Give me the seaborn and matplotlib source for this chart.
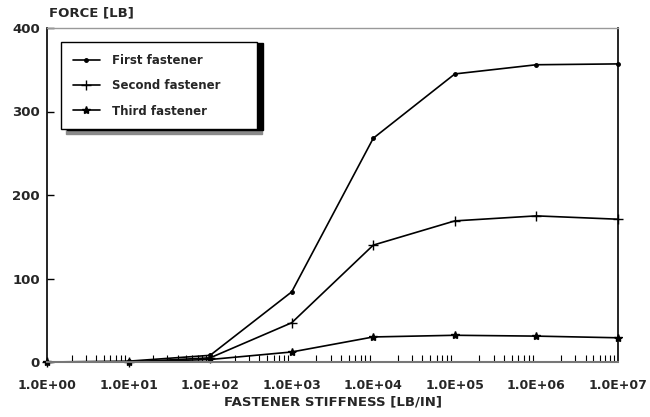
import matplotlib
matplotlib.use("Agg")
import matplotlib.pyplot as plt
from matplotlib.patches import Shadow
import numpy as np
import pandas as pd
import seaborn as sns

stiffness = [1e0, 1e1, 1e2, 1e3, 1e4, 1e5, 1e6, 1e7]
first = [0, 1, 8, 84, 268, 345, 356, 357]
second = [0, 0, 5, 47, 140, 169, 175, 171]
third = [0, 0, 3, 12, 30, 32, 31, 29]
series_names = ["First fastener", "Second fastener", "Third fastener"]
series_markers = [".", "+", "*"]
x_ticklabels = ["1.0E+00", "1.0E+01", "1.0E+02", "1.0E+03",
                "1.0E+04", "1.0E+05", "1.0E+06", "1.0E+07"]
y_ticks = [0, 100, 200, 300, 400]

sns.set_theme(style="white")
plt.rcParams["font.family"] = ["DejaVu Sans"]
plt.rcParams["font.weight"] = "bold"

fig = plt.figure(figsize=(6.5, 4.17), dpi=100)
L, R, T, B = 47, 618, 28, 362
ax = fig.add_axes([L / 650, 1 - B / 417, (R - L) / 650, (B - T) / 417])

msizes = {".": 5, "+": 7, "*": 6}
for name, vals, mk in zip(series_names, [first, second, third], series_markers):
    d = pd.DataFrame({"stiffness": stiffness, "force": vals})
    sns.lineplot(data=d, x="stiffness", y="force", color="black", marker=mk,
                 markersize=msizes[mk], linewidth=1.2, ax=ax, label=name,
                 markeredgecolor="black", markerfacecolor="black", markeredgewidth=1.0,
                 clip_on=False)

ax.set_xscale("log")
ax.set_xlim(1, 1e7)
ax.set_ylim(0, 400)
ax.set_xticks(stiffness)
ax.set_xticklabels(x_ticklabels, fontsize=9, fontweight="bold")
ax.set_yticks(y_ticks)
ax.set_yticklabels([str(v) for v in y_ticks], fontsize=9.5, fontweight="bold")
ax.xaxis.set_minor_locator(matplotlib.ticker.LogLocator(base=10, subs=np.arange(2, 10)))
ax.xaxis.set_minor_formatter(matplotlib.ticker.NullFormatter())
ax.tick_params(axis="x", which="major", direction="in", length=0, pad=12.5)
ax.tick_params(axis="x", which="minor", direction="in", length=5, width=0.8, color="black", bottom=True)
ax.tick_params(axis="y", which="major", direction="in", length=5, width=1, color="black", left=True, pad=5)

for side in ["left", "right"]:
    ax.spines[side].set_color("black")
    ax.spines[side].set_linewidth(1.2)
ax.spines["bottom"].set_color("#777777")
ax.spines["bottom"].set_linewidth(1.5)
ax.spines["top"].set_color("#999999")
ax.spines["top"].set_linewidth(1.0)
ax.spines["top"].set_linestyle((0, (2, 1)))

ax.set_xlabel("FASTENER STIFFNESS [LB/IN]", fontsize=9.5, fontweight="bold", labelpad=2)
ax.set_ylabel("")
fig.text(49 / 650, 1 - 13 / 417, "FORCE [LB]", fontsize=9.5, fontweight="bold",
         ha="left", va="center")

handles, labels = ax.get_legend_handles_labels()
leg = ax.legend(handles, labels, loc="upper left",
                bbox_to_anchor=(0.0245, 0.958 - 0.3, 0.343, 0.3), mode="expand",
                borderaxespad=0, frameon=True, fancybox=False, shadow=False,
                edgecolor="black", framealpha=1, labelspacing=1.05, handlelength=2.3,
                handletextpad=1.0, borderpad=1.0, prop={"size": 8.5, "weight": "bold"})
leg.get_frame().set_linewidth(1.0)
leg.set_zorder(10)

fig.canvas.draw()
gray_sh = Shadow(leg.legendPatch, 3.5, -3.0, facecolor="#8a8a8a", edgecolor="#8a8a8a",
                 alpha=1, zorder=9)
black_sh = Shadow(leg.legendPatch, 4.5, -0.5, facecolor="black", edgecolor="black",
                  alpha=1, zorder=9.5)
ax.add_artist(gray_sh)
ax.add_artist(black_sh)

fig.savefig("out.png", dpi=100)
